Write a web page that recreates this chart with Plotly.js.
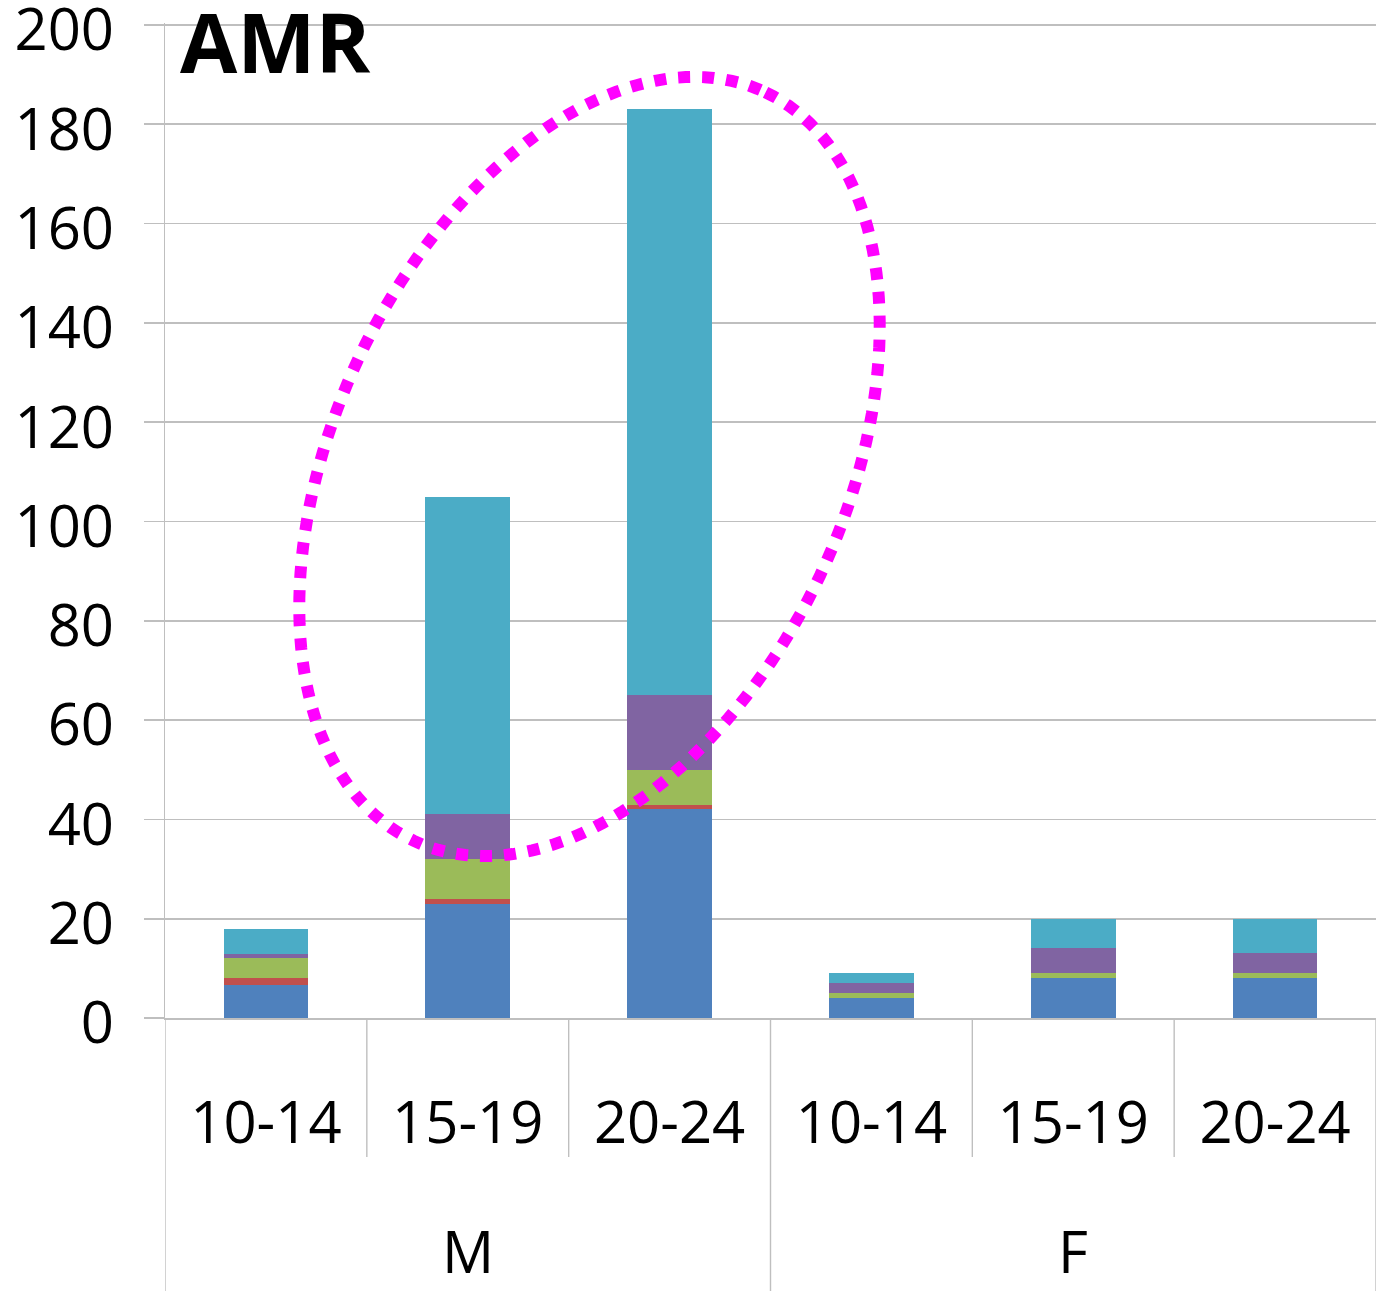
<!DOCTYPE html>
<html><head><meta charset="utf-8">
<script src="https://cdn.plot.ly/plotly-3.0.1.min.js"></script>
<style>html,body{margin:0;padding:0;background:#fff}</style>
</head><body><div id="chart" style="width:1376px;height:1291px"></div>
<script>
// ---- data ----
const sexGroups = ["M", "M", "M", "F", "F", "F"];
const ageGroups = ["10-14", "15-19", "20-24", "10-14", "15-19", "20-24"];
const series1 = [6.7, 23, 42, 4, 8, 8];      // blue
const series2 = [1.3, 1, 1, 0, 0, 0];        // red
const series3 = [4, 8, 7, 1, 1, 1];          // green
const series4 = [0.8, 9, 15, 2, 5, 4];       // purple
const series5 = [5.2, 64, 118, 2, 6, 7];     // teal
const seriesNames = ["Series 1", "Series 2", "Series 3", "Series 4", "Series 5"];
const yTicks = [0, 20, 40, 60, 80, 100, 120, 140, 160, 180, 200];
const chartTitle = "AMR";

// ---- styling ----
const colors = ["#4F81BD", "#C0504D", "#9BBB59", "#8064A2", "#4BACC6"];
const FONT = "Open Sans, Noto Sans, sans-serif";
const W = 1376, H = 1291;
const M = {l: 165, r: 0, t: 23, b: 273};
const PW = W - M.l - M.r, PH = H - M.t - M.b;
const grey = "#BFBFBF";

const xIdx = ageGroups.map((_, i) => i);
const allSeries = [series1, series2, series3, series4, series5];
const traces = allSeries.map((s, k) => ({
  type: "bar", x: xIdx, y: s, name: seriesNames[k],
  marker: {color: colors[k], line: {width: 0}},
  hoverinfo: "y"
}));

// dividers between categories
const shapes = [];
const pxToPaperY = py => (H - M.b - py) / PH;
for (let i = 0; i <= ageGroups.length; i++) {
  const xb = i - 0.5;
  const outer = (i === 0 || i === ageGroups.length || sexGroups[i] !== sexGroups[i - 1]);
  shapes.push({type: "line", xref: "x", yref: "paper", x0: xb, x1: xb,
    y0: 0, y1: outer ? pxToPaperY(H + 5) : pxToPaperY(1157),
    line: {color: grey, width: 1.4}});
}

// dotted ellipse (annotation highlight)
const ec = {x: 589.5, y: 466.5}, ea = 413.5, eb = 255, th = 25.2 * Math.PI / 180;
let path = "";
for (let j = 0; j <= 180; j++) {
  const t = j / 180 * 2 * Math.PI;
  const X = ec.x + ea * Math.cos(t) * Math.sin(th) + eb * Math.sin(t) * Math.cos(th);
  const Y = ec.y - ea * Math.cos(t) * Math.cos(th) + eb * Math.sin(t) * Math.sin(th);
  const px = (X - M.l) / PW, py = (H - M.b - Y) / PH;
  path += (j === 0 ? "M" : "L") + px.toFixed(5) + "," + py.toFixed(5);
}
path += "Z";
shapes.push({type: "path", xref: "paper", yref: "paper", path: path,
  line: {color: "#FF00FF", width: 12, dash: "dot"}, layer: "above"});

// group labels
const groups = [];
sexGroups.forEach((g, i) => {
  const last = groups[groups.length - 1];
  if (last && last.name === g) last.idx.push(i); else groups.push({name: g, idx: [i]});
});
const annotations = groups.map(g => ({
  text: g.name, xref: "x", yref: "paper",
  x: g.idx.reduce((a, b) => a + b, 0) / g.idx.length,
  y: pxToPaperY(1250), yanchor: "middle", xanchor: "center", showarrow: false,
  font: {family: FONT, size: 58, color: "#000"}
}));
annotations.push({text: "<b>" + chartTitle + "</b>", xref: "paper", yref: "paper",
  x: (178 - M.l) / PW, y: pxToPaperY(40), xanchor: "left", yanchor: "middle",
  showarrow: false, font: {family: FONT, size: 83, color: "#000"}});

const layout = {
  width: W, height: H, margin: M,
  paper_bgcolor: "#fff", plot_bgcolor: "#fff",
  barmode: "stack", bargap: 0.58, showlegend: false,
  font: {family: FONT, color: "#000"},
  xaxis: {
    range: [-0.5, ageGroups.length - 0.5], tickmode: "array",
    tickvals: xIdx, ticktext: ageGroups, ticks: "", showgrid: false,
    zeroline: false, showline: true, linecolor: grey, linewidth: 1.7,
    tickfont: {family: FONT, size: 58, color: "#000"},
    ticklabelstandoff: 54, ticklabeloverflow: "allow", fixedrange: true
  },
  yaxis: {
    range: [0, 200.4], tickmode: "array", tickvals: yTicks,
    showgrid: true, gridcolor: grey, gridwidth: 1.7,
    zeroline: false, showline: true, linecolor: grey, linewidth: 1.4,
    ticks: "outside", ticklen: 20, tickcolor: grey, tickwidth: 1.7,
    tickfont: {family: FONT, size: 58, color: "#000"},
    ticklabelstandoff: 18, ticklabelshift: 5, ticklabeloverflow: "allow", fixedrange: true
  },
  shapes: shapes, annotations: annotations
};

Plotly.newPlot("chart", traces, layout, {displayModeBar: false, staticPlot: true});
</script>
</body></html>
